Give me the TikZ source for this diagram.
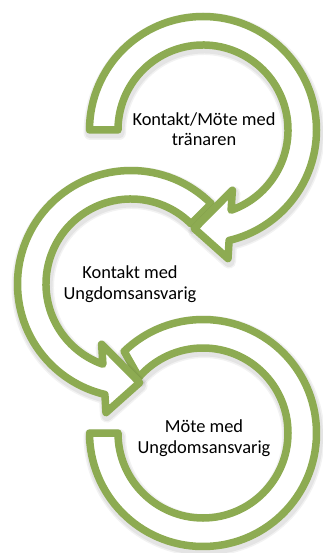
\documentclass[tikz,border=0pt]{standalone}
\usepackage{fontspec}
\setmainfont{Carlito}
\definecolor{ringgreen}{RGB}{141,171,82}
\begin{document}
\begin{tikzpicture}[x=1pt,y=-1pt,
  ring/.style={draw=ringgreen, line width=7.5pt, fill=white, line join=round},
  shade1/.style={draw=black, draw opacity=0.05, line width=14pt, line join=round},
  shade2/.style={draw=black, draw opacity=0.06, line width=11pt, line join=round},
  label/.style={align=center, inner sep=0pt, text=black,
    font=\fontsize{18.4}{20.5}\selectfont},
  paththree/.style={insert path={(226:113.5) arc[start angle=226, end angle=540, radius=113.5]
    -- (540:85) arc[start angle=540, end angle=221, radius=85] -- cycle}},
  pathtwo/.style={insert path={(315:113.5) arc[start angle=315, end angle=103.3, radius=113.5]
    -- (101:131) -- (85:99) -- (116:67) -- (109.3:85)
    arc[start angle=109.3, end angle=315, radius=85] -- cycle}},
  pathone/.style={insert path={(180:113.5) arc[start angle=180, end angle=436.7, radius=113.5]
    -- (439:131) -- (455:99) -- (424:67) -- (430.7:85)
    arc[start angle=430.7, end angle=180, radius=85] -- cycle}}]
\useasboundingbox (0,0) rectangle (322,553);
\coordinate (c1) at (203,130);
\coordinate (c2) at (131,284);
\coordinate (c3) at (203,433);
% ring 3 (bottom)
\begin{scope}[shift={(c3)}]
\path[shade1, shift={(1,3)}, paththree];
\path[shade2, shift={(1,3)}, paththree];
\path[ring, paththree];
\end{scope}
% ring 2 (middle)
\begin{scope}[shift={(c2)}]
\path[shade1, shift={(1,3)}, pathtwo];
\path[shade2, shift={(1,3)}, pathtwo];
\path[ring, pathtwo];
\end{scope}
% ring 1 (top)
\begin{scope}[shift={(c1)}]
\path[shade1, shift={(1,3)}, pathone];
\path[shade2, shift={(1,3)}, pathone];
\path[ring, pathone];
\end{scope}
\node[label] (t1) at (204,129) {Kontakt/Möte med\\tränaren};
\node[label] (t2) at (130,284) {Kontakt med\\Ungdomsansvarig};
\node[label] (t3) at (204,438) {Möte med\\Ungdomsansvarig};
\end{tikzpicture}
\end{document}
